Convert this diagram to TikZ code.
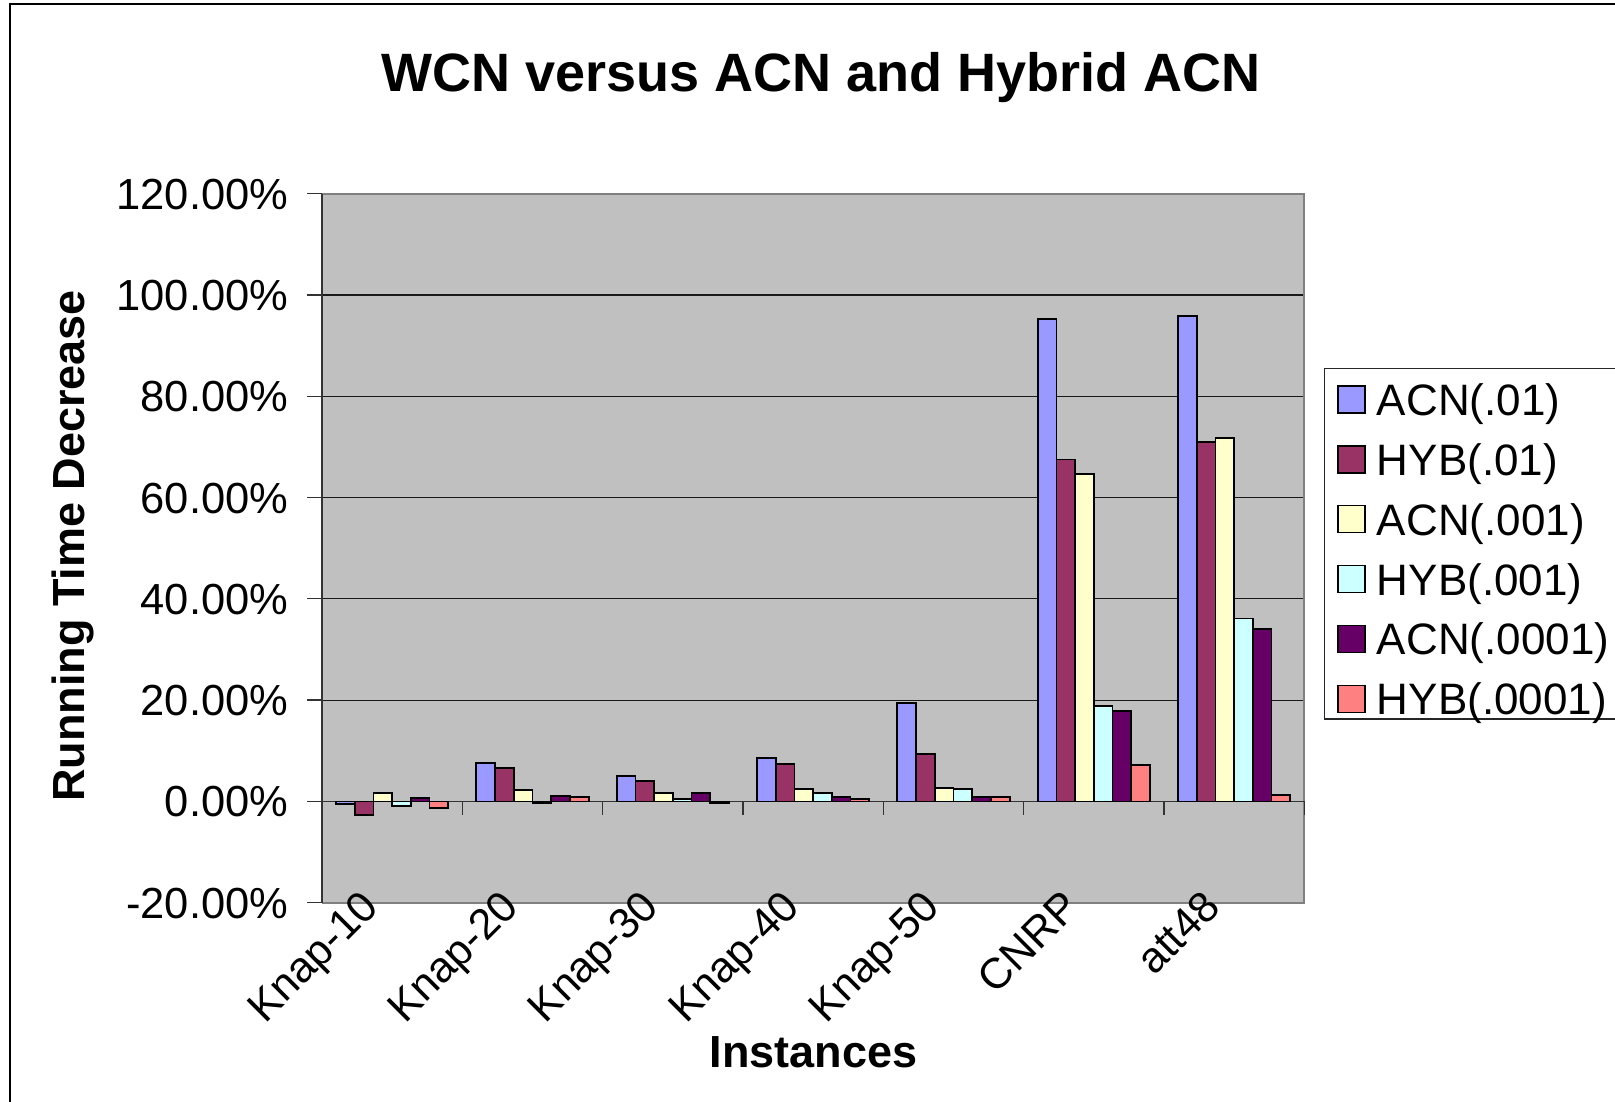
\documentclass[tikz,border=0pt]{standalone}
\usepackage{fontspec}
\setmainfont{Liberation Sans}
\definecolor{s0}{HTML}{9999FF}
\definecolor{s1}{HTML}{993366}
\definecolor{s2}{HTML}{FFFFCC}
\definecolor{s3}{HTML}{CCFFFF}
\definecolor{s4}{HTML}{660066}
\definecolor{s5}{HTML}{FF8080}
\definecolor{plotgray}{HTML}{C0C0C0}
\definecolor{framegray}{HTML}{808080}
\newcommand\bargroup[7]{%
  \foreach \v [count=\j from 0] in {#2,#3,#4,#5,#6,#7} {%
    \pgfmathsetmacro\xl{322+140.33*#1+14.03+18.71*\j}%
    \pgfmathsetmacro\xr{\xl+18.71}%
    \pgfmathsetmacro\yt{801.4-5.065*\v}%
    \filldraw[barstyle, fill=s\j] (\xl,801.4) rectangle (\xr,\yt);
  }%
}
\begin{document}
\begin{tikzpicture}[x=1pt,y=-1pt,
  ticklabel/.style={font=\fontsize{43.5}{52}\selectfont, inner sep=0pt},
  cattext/.style={font=\fontsize{43}{51}\selectfont, inner sep=0pt, rotate=45, anchor=base east},
  axistitle/.style={font=\fontsize{45}{54}\selectfont\bfseries, inner sep=0pt},
  legendtext/.style={font=\fontsize{44}{52}\selectfont, inner sep=0pt, anchor=base west},
  barstyle/.style={draw=black, line width=1.8pt},
  gridline/.style={draw=black!90, line width=1.2pt},
  axisline/.style={draw=black!80, line width=1.6pt}]
\useasboundingbox (0,0) rectangle (1615,1101);
\fill[white] (0,0) rectangle (1615,1101);
\begin{scope}
\clip (0,0) rectangle (1615,1101);
% outer chart frame
\draw[line width=2.2pt] (10,4) rectangle (1700,1200);
% title
\node[font=\fontsize{54}{64}\selectfont\bfseries, inner sep=0pt, anchor=base] (title) at (821.5,91) {WCN versus ACN and Hybrid ACN};
% plot area
\fill[plotgray] (322,193.6) rectangle (1304.3,902.7);
\foreach \v in {20,40,60,80,100} {
  \draw[gridline] (322,{801.4-5.065*\v}) -- (1304.3,{801.4-5.065*\v});
}
\draw[framegray, line width=2pt] (322,193.6) -- (1304.3,193.6) -- (1304.3,902.7) -- (322,902.7);
% category axis at zero
\draw[axisline, line width=1.3pt] (322,801.4) -- (1304.3,801.4);
\foreach \k in {0,...,7} {
  \draw[axisline, line width=1.3pt] ({322+140.33*\k},801.4) -- ({322+140.33*\k},815);
}
% value axis
\draw[axisline] (322,193.6) -- (322,902.7);
\foreach \v/\t in {120/120.00\%,100/100.00\%,80/80.00\%,60/60.00\%,40/40.00\%,20/20.00\%,0/0.00\%,-20/-20.00\%} {
  \draw[axisline, line width=1.3pt] (307,{801.4-5.065*\v}) -- (322,{801.4-5.065*\v});
  \node[ticklabel, anchor=base east] at (288.5,{801.4-5.065*\v+15.5}) {\t};
}
% bars
\bargroup{0}{-0.5}{-2.7}{1.7}{-0.9}{0.7}{-1.3}
\bargroup{1}{7.6}{6.6}{2.3}{-0.3}{1.1}{0.9}
\bargroup{2}{5.0}{4.1}{1.7}{0.5}{1.7}{-0.3}
\bargroup{3}{8.6}{7.4}{2.5}{1.6}{0.9}{0.5}
\bargroup{4}{19.5}{9.3}{2.6}{2.4}{0.9}{0.8}
\bargroup{5}{95.2}{67.5}{64.7}{18.8}{17.8}{7.2}
\bargroup{6}{95.9}{71.0}{71.7}{36.1}{34.0}{1.2}
% category labels
\foreach \n/\t [count=\k from 0] in {c1/Knap-10,c2/Knap-20,c3/Knap-30,c4/Knap-40,c5/Knap-50,c6/CNRP,c7/att48} {
  \node[cattext] (\n) at ({322+140.33*\k+70.16-12},909) {\t};
}
% axis titles
\node[axistitle, rotate=90, anchor=base] (ytitle) at (84.5,546) {Running Time Decrease};
\node[axistitle, anchor=base] (xtitle) at (813.7,1067) {Instances};
% legend
\filldraw[fill=white, draw=black!85, line width=1.4pt] (1324.3,368.3) rectangle (1700,719);
\foreach \t [count=\j from 0] in {ACN(.01),HYB(.01),ACN(.001),HYB(.001),ACN(.0001),HYB(.0001)} {
  \pgfmathsetmacro\cy{399.5+59.9*\j}
  \filldraw[draw=black, line width=1.3pt, fill=s\j] (1338,\cy-13.5) rectangle (1365,\cy+13.5);
  \node[legendtext] (leg\j) at (1376.7,\cy+15.8) {\t};
}
\end{scope}
\end{tikzpicture}
\end{document}
